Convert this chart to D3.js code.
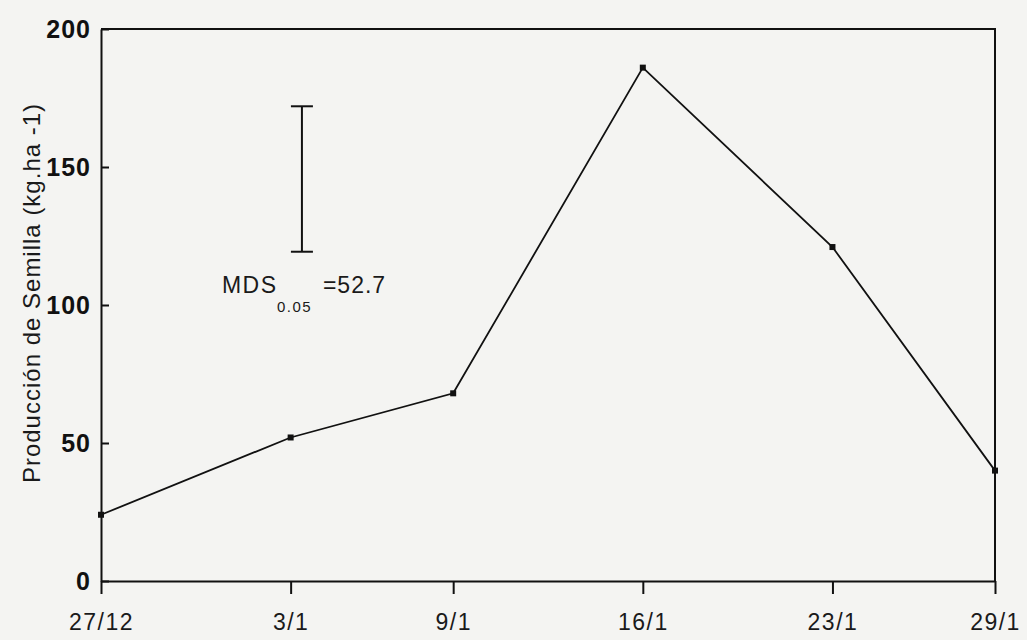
<!DOCTYPE html>
<html>
<head>
<meta charset="utf-8">
<script src="https://cdn.jsdelivr.net/npm/d3@7"></script>
<style>
  body { margin: 0; background: #f4f4f2; }
  svg { display: block; }
</style>
</head>
<body>
<div id="chart"></div>
<script>
// Fechas de cosecha y producción de semilla (kg/ha)
const fechas = ["1989-12-27", "1990-01-03", "1990-01-09", "1990-01-16", "1990-01-23", "1990-01-29"];
const produccion = [24, 52, 68, 186, 121, 40];
const yTicks = [0, 50, 100, 150, 200];

// Barra de MDS (diferencia mínima significativa)
const mdsValor = 52.7;
const mdsTope = 172;
const mdsFecha = "1990-01-03T10:00";

const width = 1027;
const height = 640;
const margin = {top: 29, right: 32, bottom: 59, left: 101};

const parse = d3.utcParse("%Y-%m-%d");
const parseHora = d3.utcParse("%Y-%m-%dT%H:%M");
const datos = fechas.map((f, i) => ({fecha: parse(f), valor: produccion[i]}));

const x = d3.scaleUtc()
    .domain(d3.extent(datos, d => d.fecha))
    .range([margin.left, width - margin.right]);

const y = d3.scaleLinear()
    .domain([0, 200])
    .range([height - margin.bottom, margin.top]);

const svg = d3.select("#chart").append("svg")
    .attr("width", width)
    .attr("height", height)
    .style("font-family", "'Liberation Sans', Arial, sans-serif");

// Marco superior y derecho
svg.append("path")
    .attr("d", `M${x.range()[0]},${y(200)}H${x.range()[1]}V${y(0)}`)
    .attr("fill", "none")
    .attr("stroke", "#111")
    .attr("stroke-width", 2);

// Eje X
const xAxis = svg.append("g")
    .attr("transform", `translate(0,${y(0)})`)
    .call(d3.axisBottom(x)
        .tickValues(datos.map(d => d.fecha))
        .tickFormat(d3.utcFormat("%-d/%-m"))
        .tickSizeInner(13)
        .tickSizeOuter(0)
        .tickPadding(20));
xAxis.select(".domain").attr("stroke", "#111").attr("stroke-width", 2);
xAxis.selectAll(".tick line").attr("stroke", "#111").attr("stroke-width", 2);
xAxis.selectAll(".tick text")
    .attr("fill", "#1a1a1a")
    .attr("font-size", 23)
    .attr("letter-spacing", 1.5);

// Eje Y (ticks hacia dentro)
const yAxis = svg.append("g")
    .attr("transform", `translate(${margin.left},0)`)
    .call(d3.axisLeft(y)
        .tickValues(yTicks)
        .tickSizeInner(-8)
        .tickSizeOuter(0)
        .tickPadding(10));
yAxis.select(".domain").attr("stroke", "#111").attr("stroke-width", 2);
yAxis.selectAll(".tick line").attr("stroke", "#111").attr("stroke-width", 2);
yAxis.selectAll(".tick text")
    .attr("fill", "#111")
    .attr("font-size", 25)
    .attr("font-weight", "bold")
    .attr("letter-spacing", 1);

// Título del eje Y
svg.append("text")
    .attr("transform", `translate(40,${(y(0) + y(200)) / 2 - 12}) rotate(-90)`)
    .attr("text-anchor", "middle")
    .attr("font-size", 24)
    .attr("letter-spacing", 1)
    .attr("fill", "#1a1a1a")
    .text("Producción de Semilla (kg.ha -1)");

// Línea de datos
const linea = d3.line()
    .x(d => x(d.fecha))
    .y(d => y(d.valor));

svg.append("path")
    .datum(datos)
    .attr("fill", "none")
    .attr("stroke", "#111")
    .attr("stroke-width", 1.8)
    .attr("d", linea);

svg.append("g")
    .selectAll("rect")
    .data(datos)
    .join("rect")
    .attr("x", d => x(d.fecha) - 3)
    .attr("y", d => y(d.valor) - 3)
    .attr("width", 6)
    .attr("height", 6)
    .attr("fill", "#111");

// Barra MDS
const mx = x(parseHora(mdsFecha));
const mdsG = svg.append("g")
    .attr("stroke", "#111")
    .attr("stroke-width", 2);
mdsG.append("line")
    .attr("x1", mx).attr("x2", mx)
    .attr("y1", y(mdsTope)).attr("y2", y(mdsTope - mdsValor));
[mdsTope, mdsTope - mdsValor].forEach(v => {
    mdsG.append("line")
        .attr("x1", mx - 11).attr("x2", mx + 11)
        .attr("y1", y(v)).attr("y2", y(v));
});

const mdsY = y(mdsTope - mdsValor) + 41;
const mdsTexto = svg.append("text")
    .attr("font-size", 23)
    .attr("fill", "#1a1a1a");
mdsTexto.append("tspan")
    .attr("x", mx - 80).attr("y", mdsY)
    .attr("letter-spacing", 1.5)
    .text("MDS");
mdsTexto.append("tspan")
    .attr("x", mx - 25).attr("y", mdsY + 19)
    .attr("font-size", 15)
    .attr("letter-spacing", 1.5)
    .text("0.05");
mdsTexto.append("tspan")
    .attr("x", mx + 21).attr("y", mdsY)
    .attr("letter-spacing", 1)
    .text("=" + mdsValor);
</script>
</body>
</html>
